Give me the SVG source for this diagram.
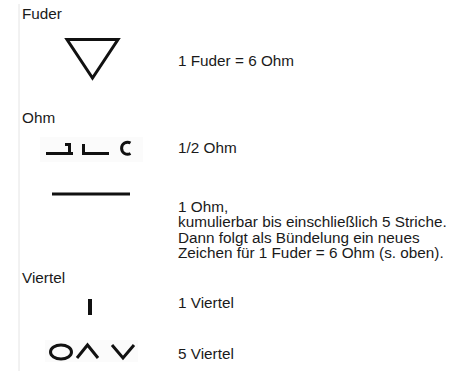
<svg xmlns="http://www.w3.org/2000/svg" width="458" height="371" viewBox="0 0 458 371">
<style>
text{font-family:"Liberation Sans",Arial,sans-serif;font-size:15.3px;fill:#1a1a1a}
.sym{fill:none;stroke:#111;stroke-width:3}
.bg{fill:#fbfbfb}
</style>
<rect width="458" height="371" fill="#fff"/>
<line x1="19" y1="4" x2="19" y2="371" stroke="#e4e4e4" stroke-width="1"/>
<g id="fuder-heading"><text x="22" y="19">Fuder</text></g>
<g id="fuder">
<polygon class="sym" points="67,39.5 118,39.5 92.5,78"/>
<text x="178" y="66">1 Fuder = 6 Ohm</text>
</g>
<g id="ohm-heading"><text x="22" y="123">Ohm</text></g>
<g id="half-ohm">
<rect class="bg" x="40" y="137" width="103" height="25"/>
<path class="sym" d="M46,153.5 H73 M65,144.5 H69.5 V153.5"/>
<path class="sym" d="M83.5,144 V153.5 H109"/>
<path class="sym" stroke-width="2.5" d="M130.5,143 A6,6 0 1 0 130.5,153.5"/>
<text x="178" y="153">1/2 Ohm</text>
</g>
<g id="one-ohm">
<line class="sym" x1="52" y1="194" x2="130" y2="194"/>
<text x="178" y="211.5">1 Ohm,</text>
<text x="178" y="227">kumulierbar bis einschließlich 5 Striche.</text>
<text x="178" y="242.5">Dann folgt als Bündelung ein neues</text>
<text x="178" y="258">Zeichen für 1 Fuder = 6 Ohm (s. oben).</text>
</g>
<g id="viertel-heading"><text x="22" y="283">Viertel</text></g>
<g id="one-viertel">
<line x1="90" y1="299" x2="90" y2="315" stroke="#111" stroke-width="4"/>
<text x="178" y="308">1 Viertel</text>
</g>
<g id="five-viertel">
<rect class="bg" x="45" y="340" width="93" height="22"/>
<ellipse class="sym" cx="61" cy="352" rx="10.5" ry="7" stroke-width="2.5"/>
<path class="sym" stroke-width="2.5" d="M77,358 L87.5,345 L98,358"/>
<path class="sym" stroke-width="2.5" d="M112,345 L123,358 L134,345"/>
<text x="178" y="359">5 Viertel</text>
</g>
</svg>
